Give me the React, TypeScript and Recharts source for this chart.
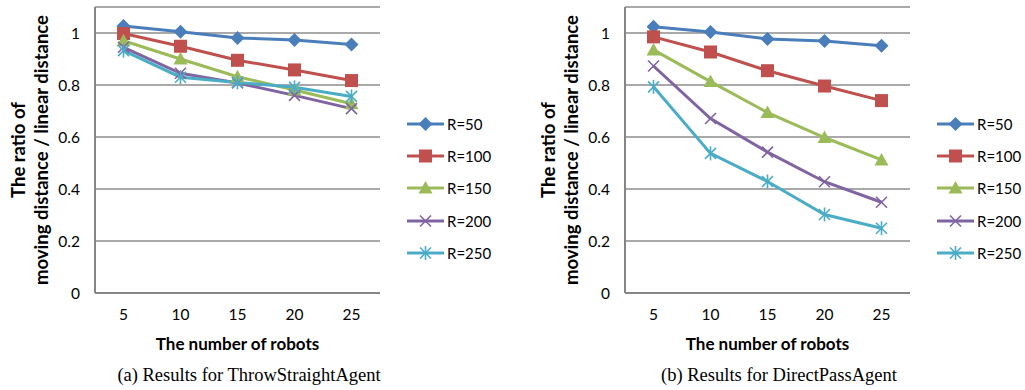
import React from "react";
import { CartesianGrid, Line, LineChart, XAxis, YAxis } from "recharts";

const robots = [5, 10, 15, 20, 25];
const yTicks = [0, 0.2, 0.4, 0.6, 0.8, 1];
const seriesNames = ["R=50", "R=100", "R=150", "R=200", "R=250"];
const seriesColors = ["#4A7EBB", "#C0504D", "#9BBB59", "#8064A2", "#4BACC6"];

// (a) ThrowStraightAgent
const throwR50 = [1.027, 1.005, 0.981, 0.973, 0.956];
const throwR100 = [0.998, 0.949, 0.895, 0.858, 0.817];
const throwR150 = [0.97, 0.9, 0.832, 0.781, 0.728];
const throwR200 = [0.945, 0.845, 0.808, 0.76, 0.709];
const throwR250 = [0.932, 0.83, 0.81, 0.791, 0.756];

// (b) DirectPassAgent
const directR50 = [1.024, 1.004, 0.977, 0.969, 0.951];
const directR100 = [0.985, 0.927, 0.855, 0.796, 0.74];
const directR150 = [0.935, 0.813, 0.694, 0.598, 0.512];
const directR200 = [0.873, 0.671, 0.542, 0.428, 0.349];
const directR250 = [0.793, 0.537, 0.429, 0.302, 0.249];

const FONT = "Lato, 'Open Sans', sans-serif";
const axisColor = "#868686";
const gridColor = "#8c8c8c";

function Marker({ kind, cx, cy, color }: { kind: number; cx: number; cy: number; color: string }) {
  if (kind === 0) {
    const s = 7;
    return <polygon points={`${cx},${cy - s} ${cx + s},${cy} ${cx},${cy + s} ${cx - s},${cy}`} fill={color} />;
  }
  if (kind === 1) {
    return <rect x={cx - 6.5} y={cy - 6.5} width={13} height={13} fill={color} />;
  }
  if (kind === 2) {
    return <polygon points={`${cx},${cy - 7} ${cx + 7},${cy + 5.5} ${cx - 7},${cy + 5.5}`} fill={color} />;
  }
  if (kind === 3) {
    const s = 5.5;
    return (
      <g stroke={color} strokeWidth={1.6}>
        <line x1={cx - s} y1={cy - s} x2={cx + s} y2={cy + s} />
        <line x1={cx - s} y1={cy + s} x2={cx + s} y2={cy - s} />
      </g>
    );
  }
  const s = 5.5;
  return (
    <g stroke={color} strokeWidth={1.6}>
      <line x1={cx - s} y1={cy - s} x2={cx + s} y2={cy + s} />
      <line x1={cx - s} y1={cy + s} x2={cx + s} y2={cy - s} />
      <line x1={cx} y1={cy - 7} x2={cx} y2={cy + 7} />
    </g>
  );
}

function Panel({ left, values, caption }: { left: number; values: number[][]; caption: string }) {
  const data = robots.map((n, i) => {
    const row: Record<string, number> = { robots: n };
    seriesNames.forEach((name, k) => (row[name] = values[k][i]));
    return row;
  });
  const tick = { fill: "#000", fontSize: 15.5, fontFamily: FONT };
  return (
    <div style={{ position: "absolute", left, top: 0, width: 495, height: 390 }}>
      <LineChart width={495} height={390} data={data} margin={{ top: 7, right: 115, bottom: 67, left: 35 }}>
        <CartesianGrid stroke={gridColor} strokeWidth={1.3} vertical={false} />
        <XAxis
          dataKey="robots"
          height={30}
          padding={{ left: 28.5, right: 28.5 }}
          tick={tick}
          tickLine={false}
          tickSize={0}
          tickMargin={16}
          axisLine={{ stroke: axisColor, strokeWidth: 2 }}
        />
        <YAxis
          width={60}
          domain={[0, 1.1]}
          ticks={yTicks}
          tick={tick}
          tickLine={false}
          tickSize={0}
          tickMargin={15}
          axisLine={{ stroke: axisColor, strokeWidth: 2 }}
          tickFormatter={(v) => String(v)}
        />
        {seriesNames.map((name, k) => (
          <Line
            key={name}
            dataKey={name}
            stroke={seriesColors[k]}
            strokeWidth={3}
            isAnimationActive={false}
            dot={(p: any) => <Marker key={`${name}-${p.index}`} kind={k} cx={p.cx} cy={p.cy} color={seriesColors[k]} />}
            activeDot={false}
          />
        ))}
      </LineChart>

      {/* y title */}
      <div
        style={{
          position: "absolute", left: 18, top: 150, transform: "translate(-50%,-50%) rotate(-90deg)",
          whiteSpace: "nowrap", fontFamily: FONT, fontWeight: 700, fontSize: 18.5,
        }}
      >
        The ratio of
      </div>
      <div
        style={{
          position: "absolute", left: 41, top: 150, transform: "translate(-50%,-50%) rotate(-90deg)",
          whiteSpace: "nowrap", fontFamily: FONT, fontWeight: 700, fontSize: 18.5,
        }}
      >
        moving distance / linear distance
      </div>

      {/* x title */}
      <div
        style={{
          position: "absolute", left: 237.5, top: 343, transform: "translate(-50%,-50%)",
          whiteSpace: "nowrap", fontFamily: FONT, fontWeight: 700, fontSize: 17,
        }}
      >
        The number of robots
      </div>

      {/* caption */}
      <div
        style={{
          position: "absolute", left: 249, top: 375, transform: "translate(-50%,-50%)",
          whiteSpace: "nowrap", fontFamily: "'Liberation Serif', 'DejaVu Serif', serif", fontSize: 18.5,
        }}
      >
        {caption}
      </div>

      {/* legend */}
      <div style={{ position: "absolute", left: 407, top: 108 }}>
        {seriesNames.map((name, k) => (
          <div key={name} style={{ display: "flex", alignItems: "center", height: 32.2 }}>
            <svg width={37} height={18} style={{ display: "block" }}>
              <line x1={0} y1={9} x2={37} y2={9} stroke={seriesColors[k]} strokeWidth={3} />
              <Marker kind={k} cx={18.5} cy={9} color={seriesColors[k]} />
            </svg>
            <span style={{ marginLeft: 3, fontFamily: FONT, fontSize: 15, lineHeight: "18px" }}>{name}</span>
          </div>
        ))}
      </div>
    </div>
  );
}

export default function App() {
  return (
    <div style={{ position: "absolute", left: 0, top: 0, width: 1025, height: 390, background: "#fff" }}>
      <Panel
        left={0}
        values={[throwR50, throwR100, throwR150, throwR200, throwR250]}
        caption="(a)  Results for ThrowStraightAgent"
      />
      <Panel
        left={530}
        values={[directR50, directR100, directR150, directR200, directR250]}
        caption="(b)  Results for DirectPassAgent"
      />
    </div>
  );
}
